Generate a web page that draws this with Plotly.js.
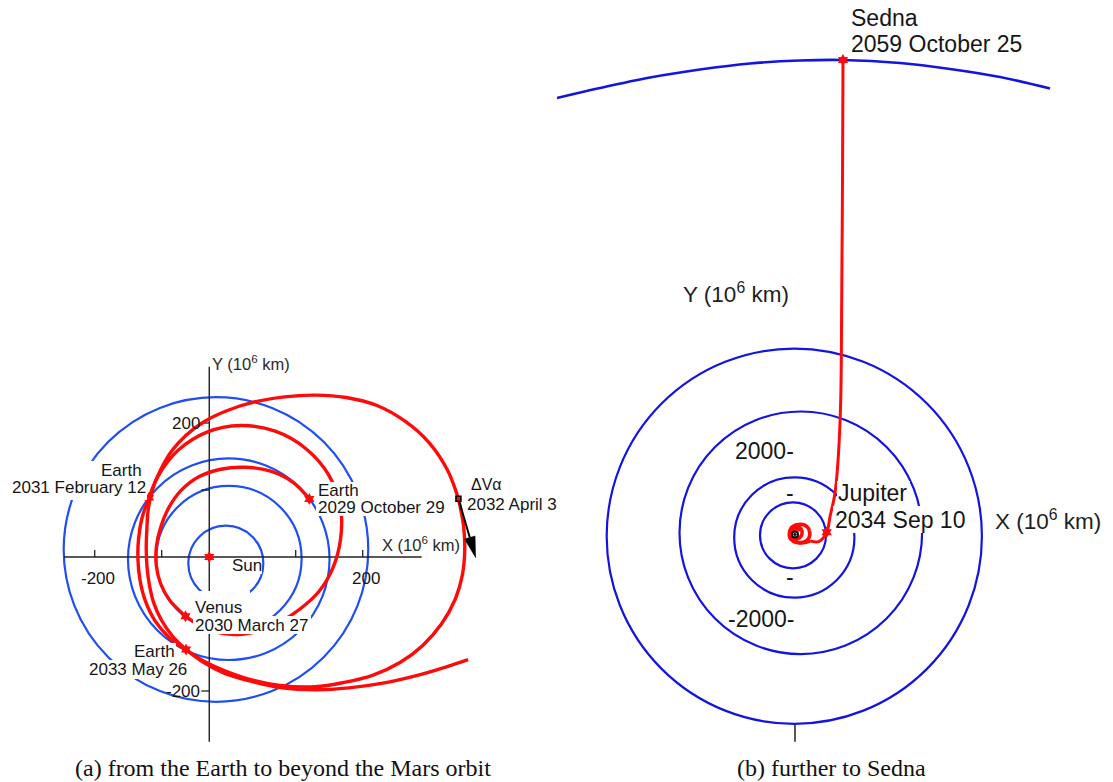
<!DOCTYPE html>
<html>
<head>
<meta charset="utf-8">
<script src="https://cdn.plot.ly/plotly-3.0.1.min.js"></script>
<style>
html,body{margin:0;padding:0;background:#ffffff;overflow:hidden;}
#chart{width:1113px;height:782px;}
</style>
</head>
<body>
<div id="chart"></div>
<script>
// ================= DATA (units: 10^6 km) =================
// ---- Panel (a): inner planet orbits ----
const innerOrbitNames   = ['Mercury', 'Venus', 'Earth', 'Mars'];
const innerOrbitRadius  = [56.0, 108.5, 150.4, 227.3];
const innerOrbitCenterX = [-4.3, 0.3, 0.1, -19.0];
const innerOrbitCenterY = [-9.3, -2.4, -3.3, 11.2];

// ---- Panel (a): trajectory legs, read as heliocentric angle (deg) / distance (10^6 km) ----
const trajectoryFocus = [0.0, -3.0];
const legEarthVenus_deg = [36.7, 50, 65, 80, 95, 110, 125, 140, 155, 170, 185, 200, 215, 233];
const legEarthVenus_r   = [150.0, 149.5, 145.0, 139.0, 134.5, 130.5, 124.5, 117.5, 112.0, 109.5, 108.5, 108.0, 107.5, 107.1];

const legVenusEarth_deg = [233, 250, 265, 280, 295, 310, 325, 340, 355, 370, 385, 400, 415, 430, 445, 460, 475, 490, 502.4];
const legVenusEarth_r   = [107.1, 108.8, 111.5, 114.0, 117.0, 121.5, 130.0, 143.0, 156.0, 169.5, 184.0, 195.0, 201.0, 203.0, 200.0, 192.0, 179.0, 163.0, 150.1];

const legEarthDeltaV_deg = [142.4, 155, 167, 180, 193, 206, 220, 233, 244.8, 257, 268, 280, 292, 304, 313, 321, 329, 336, 343, 350, 356, 362, 368, 374.7];
const legEarthDeltaV_r   = [150.1, 143.0, 138.0, 135.5, 136.0, 139.0, 143.5, 147.0, 150.0, 157.5, 167.0, 182.5, 203.5, 230.0, 252.0, 276.0, 299.0, 317.0, 332.0, 343.5, 349.5, 352.5, 354.0, 354.5];

const legDeltaVEarth_deg = [14.7, 22, 30, 38, 46, 54, 62, 71, 81, 91, 100, 109, 118, 128, 138, 148, 160, 173, 186, 198, 210, 222, 234, 244.8];
const legDeltaVEarth_r   = [354.5, 352.5, 346.0, 334.0, 318.5, 298.0, 277.0, 256.0, 237.0, 221.0, 208.5, 195.5, 182.0, 166.5, 153.5, 141.5, 130.0, 124.0, 122.5, 124.5, 129.5, 135.5, 142.5, 149.4];

const legEscape_deg = [244.8, 257, 268, 280, 292, 304, 313, 321.5, 328.7, 333.4, 337.2];
const legEscape_r   = [149.4, 159.5, 171.0, 185.0, 207.0, 235.5, 263.0, 297.0, 333.0, 361.0, 387.7];

// ---- Panel (a): encounters ----
const encounterBody = ['Earth', 'Venus', 'Earth', 'Earth'];
const encounterDate = ['2029 October 29', '2030 March 27', '2031 February 12', '2033 May 26'];
const encounterX = [120.3, -64.5, -118.9, -63.6];
const encounterY = [86.6, -88.5, 88.6, -138.2];
const sunMarkerA = [-29.0, 0.0];
const deltaVLabel = '\u0394V\u03b1';
const deltaVDate = '2032 April 3';
const deltaVTail = [342.9, 87.0];
const deltaVTip  = [368.6, -1.0];

// ---- Panel (a): drawn axes ----
const axisAxTicks = [-200, -100, 100, 200];
const axisAxTickLabels = ['-200', '', '', '200'];
const axisAyTicks = [200, 100, -100, -200];
const axisAyTickLabels = ['200', '', '', '-200'];
const axisAxExtent = [-245.8, 288.0];
const axisAyExtent = [-275.7, 284.0];
const axisAyAt = -29.0;

// ---- Panel (b): outer planet orbits ----
const outerOrbitNames   = ['Jupiter', 'Saturn', 'Uranus', 'Neptune'];
const outerOrbitRadius  = [786, 1431, 2888, 4467];
const outerOrbitCenterX = [-47.6, -16.7, 138.1, -16.7];
const outerOrbitCenterY = [-19.0, -71.4, 40.5, -40.5];

const sednaArc_x = [-5667, -4643, -3452, -2262, -1071, 119, 1119, 2500, 3691, 4881, 6071];
const sednaArc_y = [10394, 10631, 10881, 11072, 11215, 11286, 11298, 11226, 11084, 10893, 10619];

const legToSedna_x = [357.6, 560, 755, 833, 952, 1031, 1088, 1112, 1131, 1143];
const legToSedna_y = [-153.2, -170, 52, 424, 981, 1852, 3190, 5583, 8440, 11298];

const jupiterFlyby = [755, 52];
const jupiterLabel = ['Jupiter', '2034 Sep 10'];
const sednaArrival = [1143, 11298];
const sednaLabel = ['Sedna', '2059 October 25'];

const axisByTicks = [2000, 1000, -1000, -2000];
const axisByTickLabels = ['2000-', '-', '-', '-2000-'];
const axisByStub = [-4536, -4933];

const captions = ['(a) from the Earth to beyond the Mars orbit', '(b) further to Sedna'];

// ================= GEOMETRY / STYLE =================
const W = 1113, H = 782;
const A_ORIGIN = [228.7, 557], A_SCALE = 0.67;     // px position of (0,0), px per unit
const B_ORIGIN = [795, 534.5], B_SCALE = 0.042;
const A_DOM = [0, 0.5], B_DOM = [0.5, 1];
function rX(o, s, d) { return [(d[0] * W - o[0]) / s, (d[1] * W - o[0]) / s]; }
function rY(o, s) { return [(o[1] - H) / s, o[1] / s]; }
const px = x => x / W, py = y => 1 - y / H;

const FONT = 'Liberation Sans, Arial, Helvetica, sans-serif';
const SERIF = 'Liberation Serif, Times New Roman, serif';
const TXT = '#161616';
const BLUE_A = '#1f4ef2', BLUE_B = '#1414e0', RED = '#ff0a0a';

// polar (angle, distance) -> cartesian around the focus
function toXY(deg, r) {
  return {
    x: deg.map((d, i) => trajectoryFocus[0] + r[i] * Math.cos(d * Math.PI / 180)),
    y: deg.map((d, i) => trajectoryFocus[1] + r[i] * Math.sin(d * Math.PI / 180))
  };
}
const legs = [
  toXY(legEarthVenus_deg, legEarthVenus_r),
  toXY(legVenusEarth_deg, legVenusEarth_r),
  toXY(legEarthDeltaV_deg, legEarthDeltaV_r),
  toXY(legDeltaVEarth_deg, legDeltaVEarth_r),
  toXY(legEscape_deg, legEscape_r)
];

const traces = [];
const A = { xaxis: 'x', yaxis: 'y' }, B = { xaxis: 'x2', yaxis: 'y2' };
function lineTrace(x, y, ax, color, width, shape) {
  return Object.assign({ type: 'scatter', mode: 'lines', x: x, y: y, hoverinfo: 'skip',
    line: { color: color, width: width, shape: shape || 'linear', smoothing: 1 } }, ax);
}

// ---- (a) axes ----
traces.push(lineTrace([axisAxExtent[0], axisAxExtent[1], null, axisAyAt, axisAyAt],
                      [0, 0, null, axisAyExtent[0], axisAyExtent[1]], A, '#222', 1.4));
(function () {
  const tx = [], ty = [];
  const up = 7 / A_SCALE, left = 8 / A_SCALE;
  axisAxTicks.forEach(t => { tx.push(t, t, null); ty.push(0, up, null); });
  axisAyTicks.forEach(t => { tx.push(axisAyAt - left, axisAyAt, null); ty.push(t, t, null); });
  traces.push(lineTrace(tx, ty, A, '#222', 1.3));
})();

// ---- (a) trajectory ----
legs.forEach(l => traces.push(lineTrace(l.x, l.y, A, RED, 3.4, 'spline')));

// ---- (a) delta-V arrow ----
(function () {
  const dx = deltaVTip[0] - deltaVTail[0], dy = deltaVTip[1] - deltaVTail[1];
  const L = Math.hypot(dx, dy), ux = dx / L, uy = dy / L;
  const hl = 21 / A_SCALE, hw = 5.5 / A_SCALE;
  const bx = deltaVTip[0] - ux * hl, by = deltaVTip[1] - uy * hl;
  traces.push(lineTrace([deltaVTail[0], bx], [deltaVTail[1], by], A, '#000', 2));
  traces.push(Object.assign({ type: 'scatter', mode: 'lines', hoverinfo: 'skip', fill: 'toself', fillcolor: '#000',
    x: [bx - uy * hw, deltaVTip[0], bx + uy * hw, bx - uy * hw],
    y: [by + ux * hw, deltaVTip[1], by - ux * hw, by + ux * hw],
    line: { color: '#000', width: 0.5 } }, A));
})();

// ---- (a) markers ----
traces.push(Object.assign({ type: 'scatter', mode: 'markers', hoverinfo: 'skip',
  x: encounterX.concat([sunMarkerA[0]]), y: encounterY.concat([sunMarkerA[1]]),
  marker: { symbol: 'hexagram', size: 9, color: RED, line: { width: 0 } } }, A));
traces.push(Object.assign({ type: 'scatter', mode: 'markers', hoverinfo: 'skip',
  x: [deltaVTail[0]], y: [deltaVTail[1]],
  marker: { symbol: 'square', size: 5, color: RED, line: { width: 1.5, color: '#000' } } }, A));

// ---- (b) ----
traces.push(lineTrace([0, 0], axisByStub, B, '#111', 1.4));
traces.push(lineTrace(sednaArc_x, sednaArc_y, B, BLUE_B, 2.6, 'spline'));
legs.forEach(l => traces.push(lineTrace(l.x, l.y, B, RED, 3.6, 'spline')));
traces.push(lineTrace(legToSedna_x, legToSedna_y, B, RED, 3, 'spline'));
traces.push(Object.assign({ type: 'scatter', mode: 'markers', hoverinfo: 'skip',
  x: [jupiterFlyby[0], sednaArrival[0]], y: [jupiterFlyby[1], sednaArrival[1]],
  marker: { symbol: 'hexagram', size: 9, color: RED, line: { width: 0 } } }, B));
traces.push(Object.assign({ type: 'scatter', mode: 'markers', hoverinfo: 'skip',
  x: [0], y: [0],
  marker: { symbol: 'circle-open-dot', size: 6, color: '#111', line: { width: 2, color: '#111' } } }, B));

// ================= SHAPES =================
const shapes = [];
innerOrbitRadius.forEach((r, i) => shapes.push({ type: 'circle', xref: 'x', yref: 'y', layer: 'below',
  x0: innerOrbitCenterX[i] - r, x1: innerOrbitCenterX[i] + r,
  y0: innerOrbitCenterY[i] - r, y1: innerOrbitCenterY[i] + r,
  line: { color: BLUE_A, width: 2.2 }, fillcolor: 'rgba(0,0,0,0)' }));
outerOrbitRadius.forEach((r, i) => shapes.push({ type: 'circle', xref: 'x2', yref: 'y2', layer: 'below',
  x0: outerOrbitCenterX[i] - r, x1: outerOrbitCenterX[i] + r,
  y0: outerOrbitCenterY[i] - r, y1: outerOrbitCenterY[i] + r,
  line: { color: BLUE_B, width: 2.2 }, fillcolor: 'rgba(0,0,0,0)' }));
// white label backgrounds (pixel boxes)
[[6, 461, 147, 500], [316, 482, 448, 516], [193, 591, 250, 616], [193, 616, 311, 634],
 [231, 558, 262, 574], [133, 643, 176, 660], [85, 660, 188, 679],
 [837, 481, 910, 506], [833, 506, 971, 533]].forEach(b => shapes.push({
  type: 'rect', xref: 'paper', yref: 'paper', layer: 'above',
  x0: px(b[0]), x1: px(b[2]), y0: py(b[3]), y1: py(b[1]),
  fillcolor: '#ffffff', line: { width: 0 } }));

// ================= ANNOTATIONS =================
const annotations = [];
function lab(text, x, y, anchor, size, color, font) {
  annotations.push({ text: text, x: px(x), y: py(y), xref: 'paper', yref: 'paper',
    xanchor: anchor, yanchor: 'middle', showarrow: false, borderpad: 0, borderwidth: 0,
    font: { family: font || FONT, size: size, color: color || TXT } });
}
// (a) labels
lab(encounterBody[2], 142, 470.5, 'right', 17);
lab(encounterDate[2], 145.5, 487.5, 'right', 17);
lab(encounterBody[0], 317.5, 490, 'left', 17);
lab(encounterDate[0], 317.5, 507, 'left', 17);
lab(encounterBody[1], 194.5, 607.5, 'left', 17);
lab(encounterDate[1], 194.5, 625, 'left', 17);
lab(encounterBody[3], 174.5, 651.5, 'right', 17);
lab(encounterDate[3], 186.5, 669, 'right', 17);
lab('Sun', 232, 565.5, 'left', 17);
lab(deltaVLabel, 471, 485, 'left', 16);
lab(deltaVDate, 467, 505, 'left', 17);
lab('X (10<sup>6</sup> km)', 382, 544, 'left', 16.5, '#2a2a2a');
lab('Y (10<sup>6</sup> km)', 212, 363, 'left', 16.5, '#2a2a2a');
// (a) tick labels
axisAxTicks.forEach((t, i) => { if (axisAxTickLabels[i]) annotations.push({
  text: axisAxTickLabels[i], x: t, y: 0, xref: 'x', yref: 'y', xanchor: 'center', yanchor: 'middle',
  xshift: 3, yshift: -21, showarrow: false, borderpad: 0, font: { family: FONT, size: 17, color: TXT } }); });
axisAyTicks.forEach((t, i) => { if (axisAyTickLabels[i]) annotations.push({
  text: axisAyTickLabels[i], x: axisAyAt - 8 / A_SCALE, y: t, xref: 'x', yref: 'y', xanchor: 'right', yanchor: 'middle',
  xshift: 0, yshift: 0, showarrow: false, borderpad: 0, font: { family: FONT, size: 17, color: TXT } }); });
// (b) labels
lab(jupiterLabel[0], 837.5, 493, 'left', 23);
lab(jupiterLabel[1], 835, 519.5, 'left', 23);
lab(sednaLabel[0], 850.5, 18, 'left', 23);
lab(sednaLabel[1], 850.5, 44, 'left', 23);
lab('X (10<sup>6</sup> km)', 994.5, 520, 'left', 22.5, '#1e1e1e');
lab('Y (10<sup>6</sup> km)', 682.5, 293, 'left', 22.5, '#1e1e1e');
axisByTicks.forEach((t, i) => annotations.push({
  text: axisByTickLabels[i], x: 0, y: t, xref: 'x2', yref: 'y2', xanchor: 'right', yanchor: 'middle',
  showarrow: false, borderpad: 0, font: { family: FONT, size: 23, color: TXT } }));
// captions
lab(captions[0], 283, 768, 'center', 24, '#111', SERIF);
lab(captions[1], 831, 768, 'center', 24, '#111', SERIF);

// ================= LAYOUT =================
const layout = {
  width: W, height: H, autosize: false,
  margin: { l: 0, r: 0, t: 0, b: 0, pad: 0 },
  paper_bgcolor: '#ffffff', plot_bgcolor: 'rgba(0,0,0,0)', showlegend: false,
  xaxis:  { domain: A_DOM, range: rX(A_ORIGIN, A_SCALE, A_DOM), visible: false, fixedrange: true },
  yaxis:  { domain: [0, 1], range: rY(A_ORIGIN, A_SCALE), visible: false, fixedrange: true },
  xaxis2: { domain: B_DOM, range: rX(B_ORIGIN, B_SCALE, B_DOM), visible: false, fixedrange: true, anchor: 'y2' },
  yaxis2: { domain: [0, 1], range: rY(B_ORIGIN, B_SCALE), visible: false, fixedrange: true, anchor: 'x2' },
  shapes: shapes, annotations: annotations
};
Plotly.newPlot('chart', traces, layout, { displayModeBar: false, staticPlot: true });
</script>
</body>
</html>
